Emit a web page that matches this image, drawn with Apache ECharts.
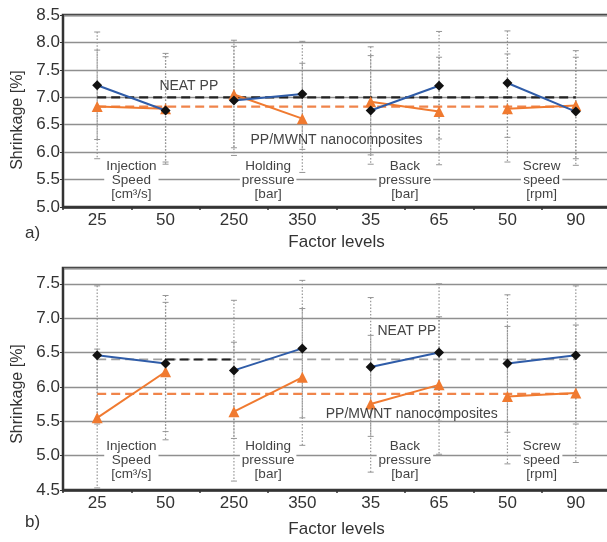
<!DOCTYPE html>
<html><head><meta charset="utf-8">
<script src="https://cdn.jsdelivr.net/npm/echarts@6/dist/echarts.min.js"></script>
<style>html,body{margin:0;padding:0;background:#fff}#c{width:607px;height:542px}</style>
</head><body><div id="c"></div>
<script>
// ---------- data ----------
const levels = ['25', '50', '250', '350', '35', '65', '50', '90'];
const factorNames = ['Injection\nSpeed\n[cm³/s]', 'Holding\npressure\n[bar]', 'Back\npressure\n[bar]', 'Screw\nspeed\n[rpm]'];
const seriesNames = ['NEAT PP', 'PP/MWNT nanocomposites'];

// chart a)
const neatA   = [7.22, 6.76, 6.94, 7.06, 6.76, 7.21, 7.26, 6.74];
const nanoA   = [6.83, 6.79, 7.05, 6.61, 6.92, 6.74, 6.79, 6.85];
const neatALo = [6.23, 5.78, 5.94, 6.05, 5.78, 6.24, 6.27, 5.76];
const neatAHi = [8.19, 7.74, 7.93, 8.02, 7.76, 8.20, 8.21, 7.73];
const nanoALo = [5.88, 5.82, 6.08, 5.63, 5.95, 5.77, 5.82, 5.88];
const nanoAHi = [7.86, 7.80, 8.04, 7.62, 7.92, 7.73, 7.79, 7.85];
const meanNeatA = 7.00, meanNanoA = 6.83;
const yTicksA = [5.0, 5.5, 6.0, 6.5, 7.0, 7.5, 8.0, 8.5];

// chart b)
const neatB   = [6.46, 6.34, 6.24, 6.56, 6.29, 6.50, 6.34, 6.46];
const nanoB   = [5.55, 6.22, 5.64, 6.14, 5.75, 6.03, 5.86, 5.91];
const neatBLo = [5.46, 5.35, 5.25, 5.55, 5.28, 5.50, 5.34, 5.46];
const neatBHi = [7.47, 7.33, 7.26, 7.55, 7.30, 7.50, 7.34, 7.47];
const nanoBLo = [4.53, 5.23, 4.63, 5.15, 4.76, 5.02, 4.88, 4.90];
const nanoBHi = [6.55, 7.23, 6.65, 7.14, 6.75, 7.02, 6.88, 6.90];
const meanNeatB = 6.40, meanNanoB = 5.90;
const yTicksB = [4.5, 5.0, 5.5, 6.0, 6.5, 7.0, 7.5];
const yMaxB = 7.73;

// ---------- styles ----------
const BLUE = '#2f5ca8', DIAM = '#111111', ORANGE = '#f07a30';
const FONT = 'Liberation Sans, Arial, Helvetica, sans-serif';
const TXT = '#333';

const chart = echarts.init(document.getElementById('c'), null, {renderer: 'canvas'});

function pairSeries(values, gi, isNeat) {
  const out = [];
  for (let p = 0; p < 4; p++) {
    const d = values.map((v, i) => (i === 2 * p || i === 2 * p + 1) ? v : '-');
    out.push({
      type: 'line', xAxisIndex: gi, yAxisIndex: gi, data: d, z: isNeat ? 6 : 5,
      connectNulls: false, animation: false,
      symbol: isNeat ? 'diamond' : 'triangle', symbolSize: isNeat ? 10 : 11,
      itemStyle: {color: isNeat ? DIAM : ORANGE},
      lineStyle: {color: isNeat ? BLUE : ORANGE, width: 2}
    });
  }
  return out;
}

function errRender(params, api) {
  const x = api.value(0), lo = api.value(1), hi = api.value(2);
  const a = api.coord([x, hi]), b = api.coord([x, lo]);
  const w = 3, col = '#959595';
  return {type: 'group', children: [
    {type: 'line', shape: {x1: a[0], y1: a[1], x2: b[0], y2: b[1]}, style: {stroke: col, lineWidth: 1.2, lineDash: [1.5, 1.8]}},
    {type: 'line', shape: {x1: a[0] - w, y1: a[1], x2: a[0] + w, y2: a[1]}, style: {stroke: col, lineWidth: 1}},
    {type: 'line', shape: {x1: b[0] - w, y1: b[1], x2: b[0] + w, y2: b[1]}, style: {stroke: col, lineWidth: 1}}
  ]};
}
function errSeries(lo, hi, gi) {
  return {type: 'custom', xAxisIndex: gi, yAxisIndex: gi, z: 2, animation: false, silent: true,
    renderItem: errRender, data: lo.map((l, i) => [i, l, hi[i]]), encode: {x: 0, y: [1, 2]}};
}
function meanLine(v, gi, color, width, from, to) {
  return {type: 'line', xAxisIndex: gi, yAxisIndex: gi, z: 3, animation: false, silent: true,
    symbol: 'none', data: [[from, v], [to, v]], lineStyle: {color: color, width: width, type: [9, 5]}};
}
// annotation texts: [indexA, indexB, fraction, yValue, pixel dy], text from list
function annotSeries(gi, items, texts, size, bg) {
  return {type: 'custom', xAxisIndex: gi, yAxisIndex: gi, z: 8, animation: false, silent: true,
    data: items,
    renderItem: function (params, api) {
      const ia = api.value(0), ib = api.value(1), f = api.value(2), yv = api.value(3), dy = api.value(4);
      const pa = api.coord([ia, yv]), pb = api.coord([ib, yv]);
      const x = pa[0] + f * (pb[0] - pa[0]);
      const st = {text: texts[params.dataIndex], fill: '#444', fontSize: size, fontFamily: FONT,
        align: 'center', verticalAlign: 'middle', lineHeight: 14};
      if (bg) { st.backgroundColor = '#fff'; st.padding = [0, 2]; }
      return {type: 'text', x: x, y: pa[1] + dy, style: st};
    }};
}

function xAxisOf(gi, nameGap) {
  return {type: 'category', gridIndex: gi, data: levels.map((_, i) => String(i)), boundaryGap: true,
    axisLine: {lineStyle: {color: '#333', width: 2.5}},
    axisTick: {show: true, length: 3, lineStyle: {color: '#333', width: 1.5}},
    axisLabel: {formatter: (v, i) => levels[i], color: TXT, fontSize: 17, fontFamily: FONT, margin: 5},
    name: 'Factor levels', nameLocation: 'middle', nameGap: nameGap,
    nameTextStyle: {color: TXT, fontSize: 17, fontFamily: FONT}};
}
function yAxisOf(gi, ticks, max) {
  return {type: 'value', gridIndex: gi, min: ticks[0], max: max, interval: 0.5,
    axisLine: {show: true, lineStyle: {color: '#333', width: 2}},
    axisTick: {show: true, length: 3, lineStyle: {color: '#333'}},
    axisLabel: {formatter: v => v.toFixed(1), color: TXT, fontSize: 17, fontFamily: FONT, margin: 3, showMaxLabel: max === ticks[ticks.length - 1]},
    splitLine: {show: true, lineStyle: {color: '#8f8f8f', width: 1.4}}};
}

const factorItemsA = [[0, 1, 0.5, 5.5, 1], [2, 3, 0.5, 5.5, 1], [4, 5, 0.5, 5.5, 1], [6, 7, 0.5, 5.5, 1]];
const factorItemsB = [[0, 1, 0.5, 5.0, 5], [2, 3, 0.5, 5.0, 5], [4, 5, 0.5, 5.0, 5], [6, 7, 0.5, 5.0, 5]];

const option = {
  backgroundColor: '#fff',
  animation: false,
  grid: [
    {left: 63, width: 547, top: 15, height: 192, show: true, borderColor: '#333', borderWidth: 2.5, containLabel: false, outerBoundsMode: 'none'},
    {left: 63, width: 547, top: 268, height: 222, show: true, borderColor: '#333', borderWidth: 2.5, containLabel: false, outerBoundsMode: 'none'}
  ],
  xAxis: [xAxisOf(0, 27), xAxisOf(1, 31)],
  yAxis: [yAxisOf(0, yTicksA, yTicksA[yTicksA.length - 1]), yAxisOf(1, yTicksB, yMaxB)],
  graphic: [
    {type: 'text', left: 25, top: 225, style: {text: 'a)', fill: TXT, fontSize: 17, fontFamily: FONT}},
    {type: 'text', left: 25, top: 514, style: {text: 'b)', fill: TXT, fontSize: 17, fontFamily: FONT}},
    {type: 'text', x: 18, y: 120, rotation: Math.PI / 2, style: {text: 'Shrinkage [%]', fill: TXT, fontSize: 16, fontFamily: FONT, align: 'center', verticalAlign: 'middle'}},
    {type: 'text', x: 18, y: 394, rotation: Math.PI / 2, style: {text: 'Shrinkage [%]', fill: TXT, fontSize: 16, fontFamily: FONT, align: 'center', verticalAlign: 'middle'}}
  ],
  series: [
    errSeries(neatALo, neatAHi, 0), errSeries(nanoALo, nanoAHi, 0),
    errSeries(neatBLo, neatBHi, 1), errSeries(nanoBLo, nanoBHi, 1),
    meanLine(meanNeatA, 0, '#222', 2.2, 0, 7),
    meanLine(meanNanoA, 0, '#f0844a', 2.2, 0, 7),
    meanLine(meanNeatB, 1, '#a0a0a0', 1.8, 0, 7),
    meanLine(meanNeatB, 1, '#222', 2.0, 1, 2),
    meanLine(meanNanoB, 1, '#f0844a', 2.2, 0, 7),
    ...pairSeries(nanoA, 0, false), ...pairSeries(neatA, 0, true),
    ...pairSeries(nanoB, 1, false), ...pairSeries(neatB, 1, true),
    annotSeries(0, factorItemsA, factorNames, 13.5, true),
    annotSeries(1, factorItemsB, factorNames, 13.5, true),
    annotSeries(0, [[1, 2, 0.34, 7.21, 0], [3, 4, 0.5, 6.22, 0]], seriesNames, 14, false),
    annotSeries(1, [[4, 5, 0.53, 6.81, 0], [4, 5, 0.6, 5.6, 0]], seriesNames, 14, false)
  ]
};
chart.setOption(option);
</script>
</body></html>
